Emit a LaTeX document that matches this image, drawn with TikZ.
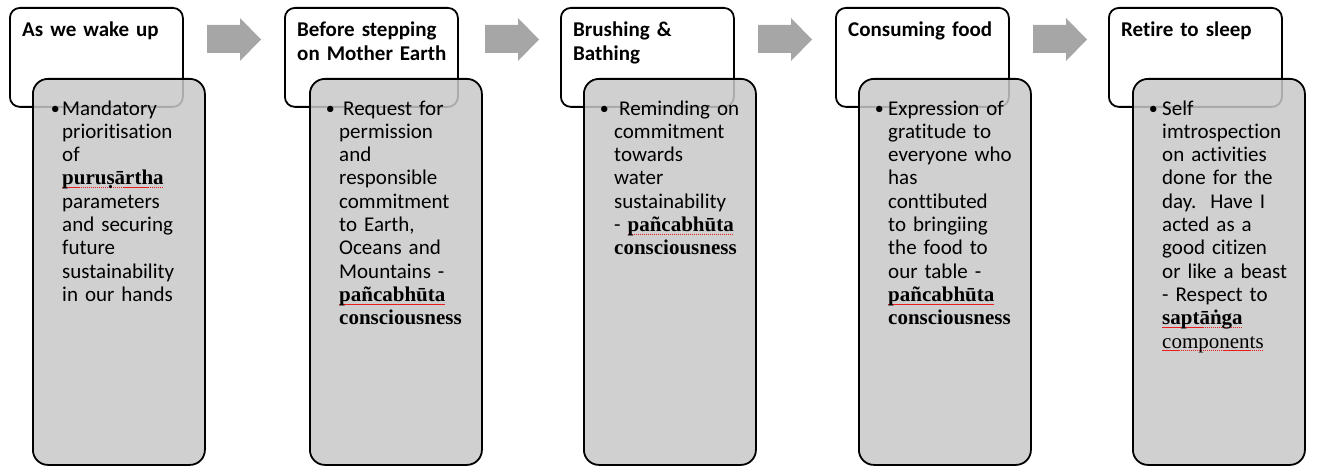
\documentclass[tikz,border=0pt]{standalone}
\usepackage{fontspec}
\setmainfont{Carlito}[Ligatures=NoCommon]
\newfontfamily\serifface{Liberation Serif}
\definecolor{cardgray}{RGB}{200,200,200}
\definecolor{arrowgray}{RGB}{166,166,166}
\definecolor{squigred}{RGB}{235,30,30}
% red spell-check style dotted underline
\newcommand\squig[1]{\setbox0=\hbox{#1}\leavevmode
  \rlap{\textcolor{squigred}{\raisebox{-3pt}{\hbox to \wd0{\xleaders\hbox{\rule{1.4pt}{0.8pt}\kern0.6pt}\hfill}}}}\box0}
\newcommand\skt[1]{{\serifface\bfseries\squig{#1}}}
\newcommand\sktplain[1]{{\serifface\squig{#1}}}
\begin{document}
\begin{tikzpicture}[x=1pt,y=-1pt,
  head/.style={draw=black, line width=1.8pt, rounded corners=10pt, fill=white,
    minimum width=173pt, minimum height=99pt, anchor=north west, inner sep=0pt},
  card/.style={draw=black, line width=1.8pt, rounded corners=15pt, fill=cardgray,
    fill opacity=0.85, minimum width=172pt, minimum height=386pt,
    anchor=north west, inner sep=0pt},
  title/.style={anchor=base west, inner sep=0pt, text width=160pt, align=left,
    font=\fontsize{21}{23.3}\selectfont\bfseries},
  body/.style={anchor=base west, inner sep=0pt, text width=160pt, align=left,
    font=\fontsize{21}{23.3}\selectfont},
  bullet/.style={anchor=base east, inner sep=0pt, font=\fontsize{18}{23.3}\selectfont},
  blockarrow/.style={fill=arrowgray, draw=none}]
\useasboundingbox (0,0) rectangle (1321,468);

% step headers
\node[head] (h1) at (9,7) {};
\node[head] (h2) at (284,7) {};
\node[head] (h3) at (560,7) {};
\node[head] (h4) at (835,7) {};
\node[head] (h5) at (1108,7) {};

% detail cards
\node[card] (c1) at (32,78) {};
\node[card] (c2) at (309,78) {};
\node[card] (c3) at (583,78) {};
\node[card] (c4) at (858,78) {};
\node[card] (c5) at (1132,78) {};

% header titles
\node[title] (t1) at (22,37) {As we wake up};
\node[title] (t2) at (297,37) {Before stepping\\on Mother Earth};
\node[title] (t3) at (573,37) {Brushing \&\\Bathing};
\node[title] (t4) at (848,37) {Consuming food};
\node[title] (t5) at (1121,37) {Retire to sleep};

% bullets
\node[bullet] (b1) at (60,114) {•};
\node[bullet] (b2) at (335,114) {•};
\node[bullet] (b3) at (609,114) {•};
\node[bullet] (b4) at (884,114) {•};
\node[bullet] (b5) at (1158,114) {•};

% card texts
\node[body] (d1) at (62,115) {Mandatory\\prioritisation\\of\\\skt{puruṣārtha}\\parameters\\and securing\\future\\sustainability\\in our hands};
\node[body] (d2) at (339,115) {\hspace*{4pt}Request for\\permission\\and\\responsible\\commitment\\to Earth,\\Oceans and\\Mountains -\\\skt{pañcabhūta}\\{\serifface\bfseries consciousness}};
\node[body] (d3) at (614,115) {\hspace*{5pt}Reminding on\\commitment\\towards\\water\\sustainability\\- \skt{pañcabhūta}\\{\serifface\bfseries consciousness}};
\node[body] (d4) at (888,115) {Expression of\\gratitude to\\everyone who\\has\\conttibuted\\to bringiing\\the food to\\our table -\\\skt{pañcabhūta}\\{\serifface\bfseries consciousness}};
\node[body] (d5) at (1162,115) {Self\\imtrospection\\on activities\\done for the\\day.\ \ Have I\\acted as a\\good citizen\\or like a beast\\- Respect to\\\skt{saptāṅga}\\\sktplain{components}};

% block arrows between steps
\foreach \x/\n in {207/a1,485/a2,758/a3,1033/a4}{
  \coordinate (\n) at (\x,25);
  \fill[blockarrow] (\n) -- ++(33,0) -- ++(0,-7) -- ++(21,21.5) -- ++(-21,21.5)
    -- ++(0,-8) -- ++(-33,0) -- cycle;
}
\end{tikzpicture}
\end{document}
